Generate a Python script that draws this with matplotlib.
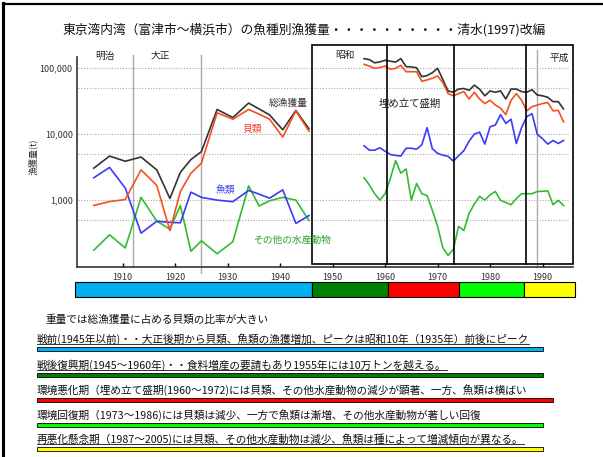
import matplotlib
matplotlib.use('Agg')
import matplotlib.pyplot as plt
import matplotlib.transforms as mtransforms
from matplotlib.patches import Rectangle
from matplotlib.lines import Line2D
from matplotlib.ticker import NullLocator

plt.rcParams['font.family'] = ['Noto Sans CJK JP', 'DejaVu Sans']

# ---- データ ----
years_pre = [1904.5, 1907.5, 1910.5, 1913.5, 1916.5, 1919, 1921, 1923, 1925,
             1928, 1931, 1934, 1936, 1938, 1940.5, 1943, 1945.5]
total_pre = [3050, 4640, 3880, 4490, 2870, 1060, 2640, 4110, 5420,
             23600, 17800, 29500, 24000, 19500, 11600, 22800, 12000]
shell_pre = [830, 950, 1020, 2870, 1670, 345, 1350, 2550, 3630,
             21000, 16800, 23600, 20000, 16800, 9000, 22400, 11000]
fish_pre = [2180, 3130, 1520, 316, 478, 460, 453, 1320, 1100,
            1000, 946, 1400, 1230, 1070, 1430, 443, 583]
other_pre = [174, 298, 188, 1100, 480, 363, 828, 168, 242,
             154, 235, 1640, 813, 977, 1100, 1000, 490]

years_post = list(range(1956, 1995))
total_post = [139000, 134000, 120000, 124000, 131000, 127000, 123000, 139000,
              105000, 104000, 101000, 74000, 77000, 85000, 99000, 67000,
              45000, 43000, 48000, 49000, 46000, 55000, 48000, 38000, 45000,
              43000, 45000, 34000, 48000, 48000, 44000, 43000, 47000, 39000,
              38000, 36000, 31000, 31000, 24000]
shell_post = [114000, 107000, 99000, 102000, 107000, 96000, 99000, 110000,
              88000, 88000, 88000, 63000, 66000, 70000, 76000, 60000,
              41000, 38000, 41000, 44000, 34000, 43000, 34000, 29000, 32500,
              27500, 24700, 19700, 32500, 41000, 32500, 22500, 26000, 27500,
              29000, 30000, 22500, 22800, 15300]
fish_post = [6650, 5700, 5700, 6200, 5500, 4900, 4750, 4650,
             6100, 6100, 5900, 6900, 12500, 6000, 5100, 4800,
             4600, 3900, 4700, 5600, 7800, 10000, 10700, 7050, 12900,
             13700, 19700, 14500, 16800, 7200, 12500, 18400, 20300, 9900,
             8500, 7050, 8000, 7200, 8000]
other_post = [2180, 1700, 1250, 1000, 1250, 2130, 3970, 2560,
              2960, 1000, 1780, 1250, 1170, 700, 400, 190,
              145, 180, 400, 345, 630, 870, 1140, 1000, 1200,
              1350, 990, 920, 850, 1050, 1250, 1250, 1250, 1350,
              1360, 1380, 850, 990, 830]

grid_levels = [500, 1000, 5000, 10000, 50000, 100000]
ytick_vals = [1000, 10000, 100000]
ytick_labels = ['1,000', '10,000', '100,000']

period_edges = [1901, 1946, 1960.5, 1974, 1986.5, 1996.2]
period_colors = ['#00b0f0', '#008000', '#ff0000', '#00ff00', '#ffff00']

notes = [
    '戦前(1945年以前)・・大正後期から貝類、魚類の漁獲増加、ピークは昭和10年（1935年）前後にピーク',
    '戦後復興期(1945～1960年)・・食料増産の要請もあり1955年には10万トンを越える。',
    '環境悪化期（埋め立て盛期(1960～1972)には貝類、その他水産動物の減少が顕著、一方、魚類は横ばい',
    '環境回復期（1973～1986)には貝類は減少、一方で魚類は漸増、その他水産動物が著しい回復',
    '再悪化懸念期（1987～2005)には貝類、その他水産動物は減少、魚類は種によって増減傾向が異なる。',
]
note_underline = [True, True, False, False, True]

W, H = 603, 457


def fx(x):
    return x / W


def fy(y):
    return 1 - y / H


fig = plt.figure(figsize=(W / 100, H / 100), dpi=100)

ax = fig.add_axes([fx(77), fy(267), (573 - 77) / W, (267 - 57) / H])
ax.set_yscale('log')
ax.set_xlim(1901.3, 1995.8)
ax.set_ylim(97, 147000)

for lv in grid_levels:
    ax.plot([1901.5, 1995], [lv, lv], ls=(0, (1, 1.5)), color='#aaaaaa', lw=0.8, zorder=1)

c_total, c_shell, c_fish, c_other = '#333333', '#f4511e', '#3b3bf5', '#33bb33'
for yrs, tot, sh, fi, ot in [(years_pre, total_pre, shell_pre, fish_pre, other_pre),
                             (years_post, total_post, shell_post, fish_post, other_post)]:
    ax.plot(yrs, ot, color=c_other, lw=1.2, zorder=3)
    ax.plot(yrs, fi, color=c_fish, lw=1.2, zorder=3)
    ax.plot(yrs, sh, color=c_shell, lw=1.2, zorder=4)
    ax.plot(yrs, tot, color=c_total, lw=1.2, zorder=3)

ax.set_yticks(ytick_vals)
ax.set_yticklabels(ytick_labels)
ax.yaxis.set_minor_locator(NullLocator())
ax.tick_params(axis='y', length=0, labelsize=6.5, pad=3, labelcolor='#333333')
ax.set_xticks(range(1910, 1991, 10))
ax.tick_params(axis='x', direction='in', length=3, width=1, labelsize=6.5, pad=4,
               labelcolor='#333333')
for s in ['top', 'right']:
    ax.spines[s].set_visible(False)
for s in ['left', 'bottom']:
    ax.spines[s].set_color('#333333')
    ax.spines[s].set_linewidth(1.2)

xt = ax.get_xaxis_transform()
ax.add_patch(Rectangle((1946.05, 0.014), 1995.8 - 1946.05, 1.057 - 0.014, fill=False,
                       ec='black', lw=1.2, transform=xt, clip_on=False, zorder=5))
for xv in [1960.3, 1973.1, 1986.8]:
    ax.plot([xv, xv], [0.014, 1.057], color='black', lw=1.2, transform=xt, clip_on=False, zorder=5)
for xv, y0, y1 in [(1911.9, 0, 1.01), (1924.9, -0.029, 1.01), (1988.9, 0, 1.033)]:
    ax.plot([xv, xv], [y0, y1], color='#aaaaaa', lw=1.0, transform=xt, clip_on=False, zorder=2)

for s, xv, yv in [('明治', 1906.6, 1.005), ('大正', 1917.1, 1.005),
                  ('昭和', 1952.3, 1.01), ('平成', 1993.2, 0.998)]:
    ax.text(xv, yv, s, transform=xt, ha='center', va='center', fontsize=7, color='#222222')

fig.text(fx(288), fy(103), '総漁獲量', fontsize=7, color='#333333', ha='center', va='center')
fig.text(fx(252), fy(129), '貝類', fontsize=7, color='#f03c28', ha='center', va='center')
fig.text(fx(225), fy(190), '魚類', fontsize=7, color=c_fish, ha='center', va='center')
fig.text(fx(292), fy(240), 'その他の水産動物', fontsize=7, color='#2aa02a', ha='center', va='center')
fig.text(fx(410), fy(104), '埋め立て盛期', fontsize=7.5, color='#222222', ha='center', va='center')
fig.text(fx(33), fy(157), '漁獲量(t)', fontsize=6.5, rotation=90, ha='center', va='center',
         color='#333333')

fig.text(fx(62), fy(30), '東京湾内湾（富津市～横浜市）の魚種別漁獲量・・・・・・・・・・清水(1997)改編',
         fontsize=9.2, ha='left', va='center', color='#111111')

# 期間カラーバー
bt = mtransforms.blended_transform_factory(ax.transData, fig.transFigure)
for x0, x1, c in zip(period_edges[:-1], period_edges[1:], period_colors):
    fig.add_artist(Rectangle((x0, fy(297)), x1 - x0, 15 / H, fc=c, ec='black', lw=0.8,
                             transform=bt, clip_on=False))

# 枠線
fig.add_artist(Line2D([fx(3.5), fx(3.5)], [fy(3), 0], color='black', lw=2.2))
fig.add_artist(Line2D([fx(3), 1], [fy(4), fy(4)], color='black', lw=1.6))

fig.text(fx(45), fy(320), '重量では総漁獲量に占める貝類の比率が大きい', fontsize=7.7,
         ha='left', va='center', color='#111111')

note_y = [339, 365, 390, 415, 439]
bar_right = [543, 543, 553, 543, 543]
texts = []
for s, yv, c, xr in zip(notes, note_y, period_colors, bar_right):
    t = fig.text(fx(37), fy(yv), s, fontsize=7.7, ha='left', va='center', color='#111111')
    texts.append(t)
    fig.add_artist(Rectangle((fx(37), fy(yv + 12)), (xr - 37) / W, 4 / H, fc=c, ec='black',
                             lw=0.6))

fig.canvas.draw()
for t, ul in zip(texts, note_underline):
    if ul:
        bb = t.get_window_extent()
        fig.add_artist(Line2D([bb.x0 / W, bb.x1 / W], [(bb.y0 + 1) / H] * 2,
                              color='#111111', lw=0.6))

fig.savefig('out.png', dpi=100)
